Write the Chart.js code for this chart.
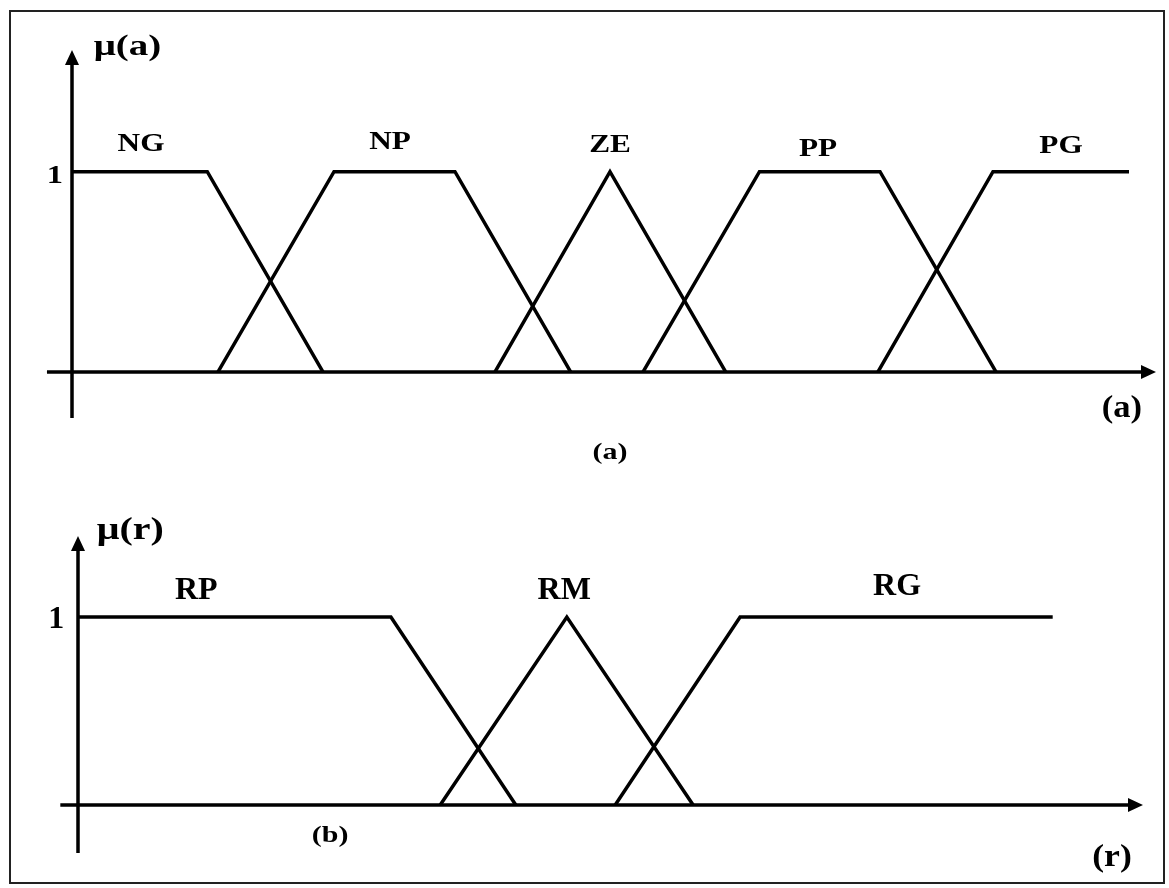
<!DOCTYPE html>
<html lang="fr">
<head>
  <meta charset="UTF-8">
  <title>Fonctions d'appartenance</title>
  <script src="https://cdn.jsdelivr.net/npm/chart.js"></script>
  <style>
    body {
      margin: 0;
      background: #fff;
      width: 1169px;
      height: 888px;
      position: relative;
      overflow: hidden;
    }
    #frame {
      position: absolute;
      left: 9px;
      top: 10px;
      width: 1156px;
      height: 874px;
      border: 2px solid #222;
      box-sizing: border-box;
    }
    canvas {
      position: absolute;
      left: 0;
    }
    #chartA { top: 0; }
    #chartB { top: 470px; }
  </style>
</head>
<body>
  <div id="frame"></div>
  <canvas id="chartA" width="1169" height="470"></canvas>
  <canvas id="chartB" width="1169" height="418"></canvas>

  <script>
    // (a) angle input sets
    const setsA = ['NG', 'NP', 'ZE', 'PP', 'PG'];
    const xA = [
      [0, 12.48, 23.15],
      [13.47, 24.17, 35.33, 46.0],
      [39.02, 49.63, 60.3],
      [52.68, 63.42, 74.54, 85.24],
      [74.35, 84.96, 97.51]
    ];
    const muA = [
      [1, 1, 0],
      [0, 1, 1, 0],
      [0, 1, 0],
      [0, 1, 1, 0],
      [0, 1, 1]
    ];
    const labelXA = [6.37, 29.34, 49.63, 68.82, 91.24];
    const labelYA = [1.105, 1.113, 1.098, 1.081, 1.095];

    // (b) r output sets
    const setsB = ['RP', 'RM', 'RG'];
    const xB = [
      [0, 29.38, 41.11],
      [34.01, 45.9, 57.76],
      [50.44, 62.17, 91.52]
    ];
    const muB = [
      [1, 1, 0],
      [0, 1, 0],
      [0, 1, 1]
    ];
    const labelXB = [11.1, 45.65, 76.91];
    const labelYB = [1.096, 1.096, 1.117];

    const serif = '"Liberation Serif", "Times New Roman", serif';

    function toPoints(xs, ys) {
      return xs.map((x, i) => ({ x: x, y: ys[i] }));
    }

    // axes with arrows + all texts
    const decor = {
      id: 'decor',
      afterDraw(chart, args, opts) {
        const ctx = chart.ctx;
        const sx = chart.scales.x, sy = chart.scales.y;
        const x0 = sx.getPixelForValue(0), y0 = sy.getPixelForValue(0);
        const xL = sx.getPixelForValue(opts.axis.xFrom), xR = sx.getPixelForValue(opts.axis.xTo);
        const yB = sy.getPixelForValue(opts.axis.yFrom), yT = sy.getPixelForValue(opts.axis.yTo);
        ctx.save();
        ctx.strokeStyle = '#000';
        ctx.fillStyle = '#000';
        ctx.lineWidth = 3.5;
        ctx.beginPath();
        ctx.moveTo(xL, y0); ctx.lineTo(xR - 12, y0);
        ctx.moveTo(x0, yB); ctx.lineTo(x0, yT + 12);
        ctx.stroke();
        // arrow heads
        ctx.beginPath();
        ctx.moveTo(xR, y0); ctx.lineTo(xR - 15, y0 - 7); ctx.lineTo(xR - 15, y0 + 7);
        ctx.closePath(); ctx.fill();
        ctx.beginPath();
        ctx.moveTo(x0, yT); ctx.lineTo(x0 - 7, yT + 15); ctx.lineTo(x0 + 7, yT + 15);
        ctx.closePath(); ctx.fill();
        // texts
        ctx.textAlign = 'center';
        ctx.textBaseline = 'alphabetic';
        opts.texts.forEach(t => {
          ctx.save();
          ctx.translate(sx.getPixelForValue(t.x), sy.getPixelForValue(t.y));
          ctx.scale(t.sx || 1, 1);
          ctx.font = 'bold ' + t.size + 'px ' + serif;
          ctx.fillText(t.text, 0, 0);
          ctx.restore();
        });
        ctx.restore();
      }
    };

    function makeChart(id, sets, xs, ys, yMin, yMax, pad, axis, texts) {
      return new Chart(document.getElementById(id), {
        type: 'scatter',
        data: {
          datasets: sets.map((name, i) => ({
            label: name,
            data: toPoints(xs[i], ys[i]),
            showLine: true,
            borderColor: '#000',
            borderWidth: 3.5,
            pointRadius: 0,
            tension: 0
          }))
        },
        options: {
          responsive: false,
          animation: false,
          layout: { padding: pad },
          scales: {
            x: { type: 'linear', min: 0, max: 100, display: false },
            y: { type: 'linear', min: yMin, max: yMax, display: false }
          },
          plugins: {
            legend: { display: false },
            tooltip: { enabled: false },
            decor: { axis: axis, texts: texts }
          }
        },
        plugins: [decor]
      });
    }

    const textsA = setsA.map((s, i) => ({ text: s, x: labelXA[i], y: labelYA[i], size: 25, sx: 1.25 }))
      .concat([
        { text: 'μ(a)', x: 5.12, y: 1.583, size: 30, sx: 1.3 },
        { text: '1', x: -1.57, y: 0.944, size: 25, sx: 1.3 },
        { text: '(a)', x: 96.86, y: -0.225, size: 32, sx: 1.08 },
        { text: '(a)', x: 49.63, y: -0.434, size: 24, sx: 1.25 }
      ]);

    const textsB = setsB.map((s, i) => ({ text: s, x: labelXB[i], y: labelYB[i], size: 32, sx: 1 }))
      .concat([
        { text: 'μ(r)', x: 4.91, y: 1.415, size: 32, sx: 1.25 },
        { text: '1', x: -2.04, y: 0.941, size: 32, sx: 1 },
        { text: '(r)', x: 97.09, y: -0.324, size: 31, sx: 1.15 },
        { text: '(b)', x: 23.68, y: -0.197, size: 24, sx: 1.25 }
      ]);

    makeChart('chartA', setsA, xA, muA, -0.23, 1.608,
      { left: 72, right: 13, top: 50, bottom: 52 },
      { xFrom: -2.31, xTo: 100, yFrom: -0.23, yTo: 1.608 }, textsA);

    makeChart('chartB', setsB, xB, muB, -0.255, 1.431,
      { left: 78, right: 26, top: 66, bottom: 35 },
      { xFrom: -1.66, xTo: 100, yFrom: -0.255, yTo: 1.431 }, textsB);
  </script>
</body>
</html>
